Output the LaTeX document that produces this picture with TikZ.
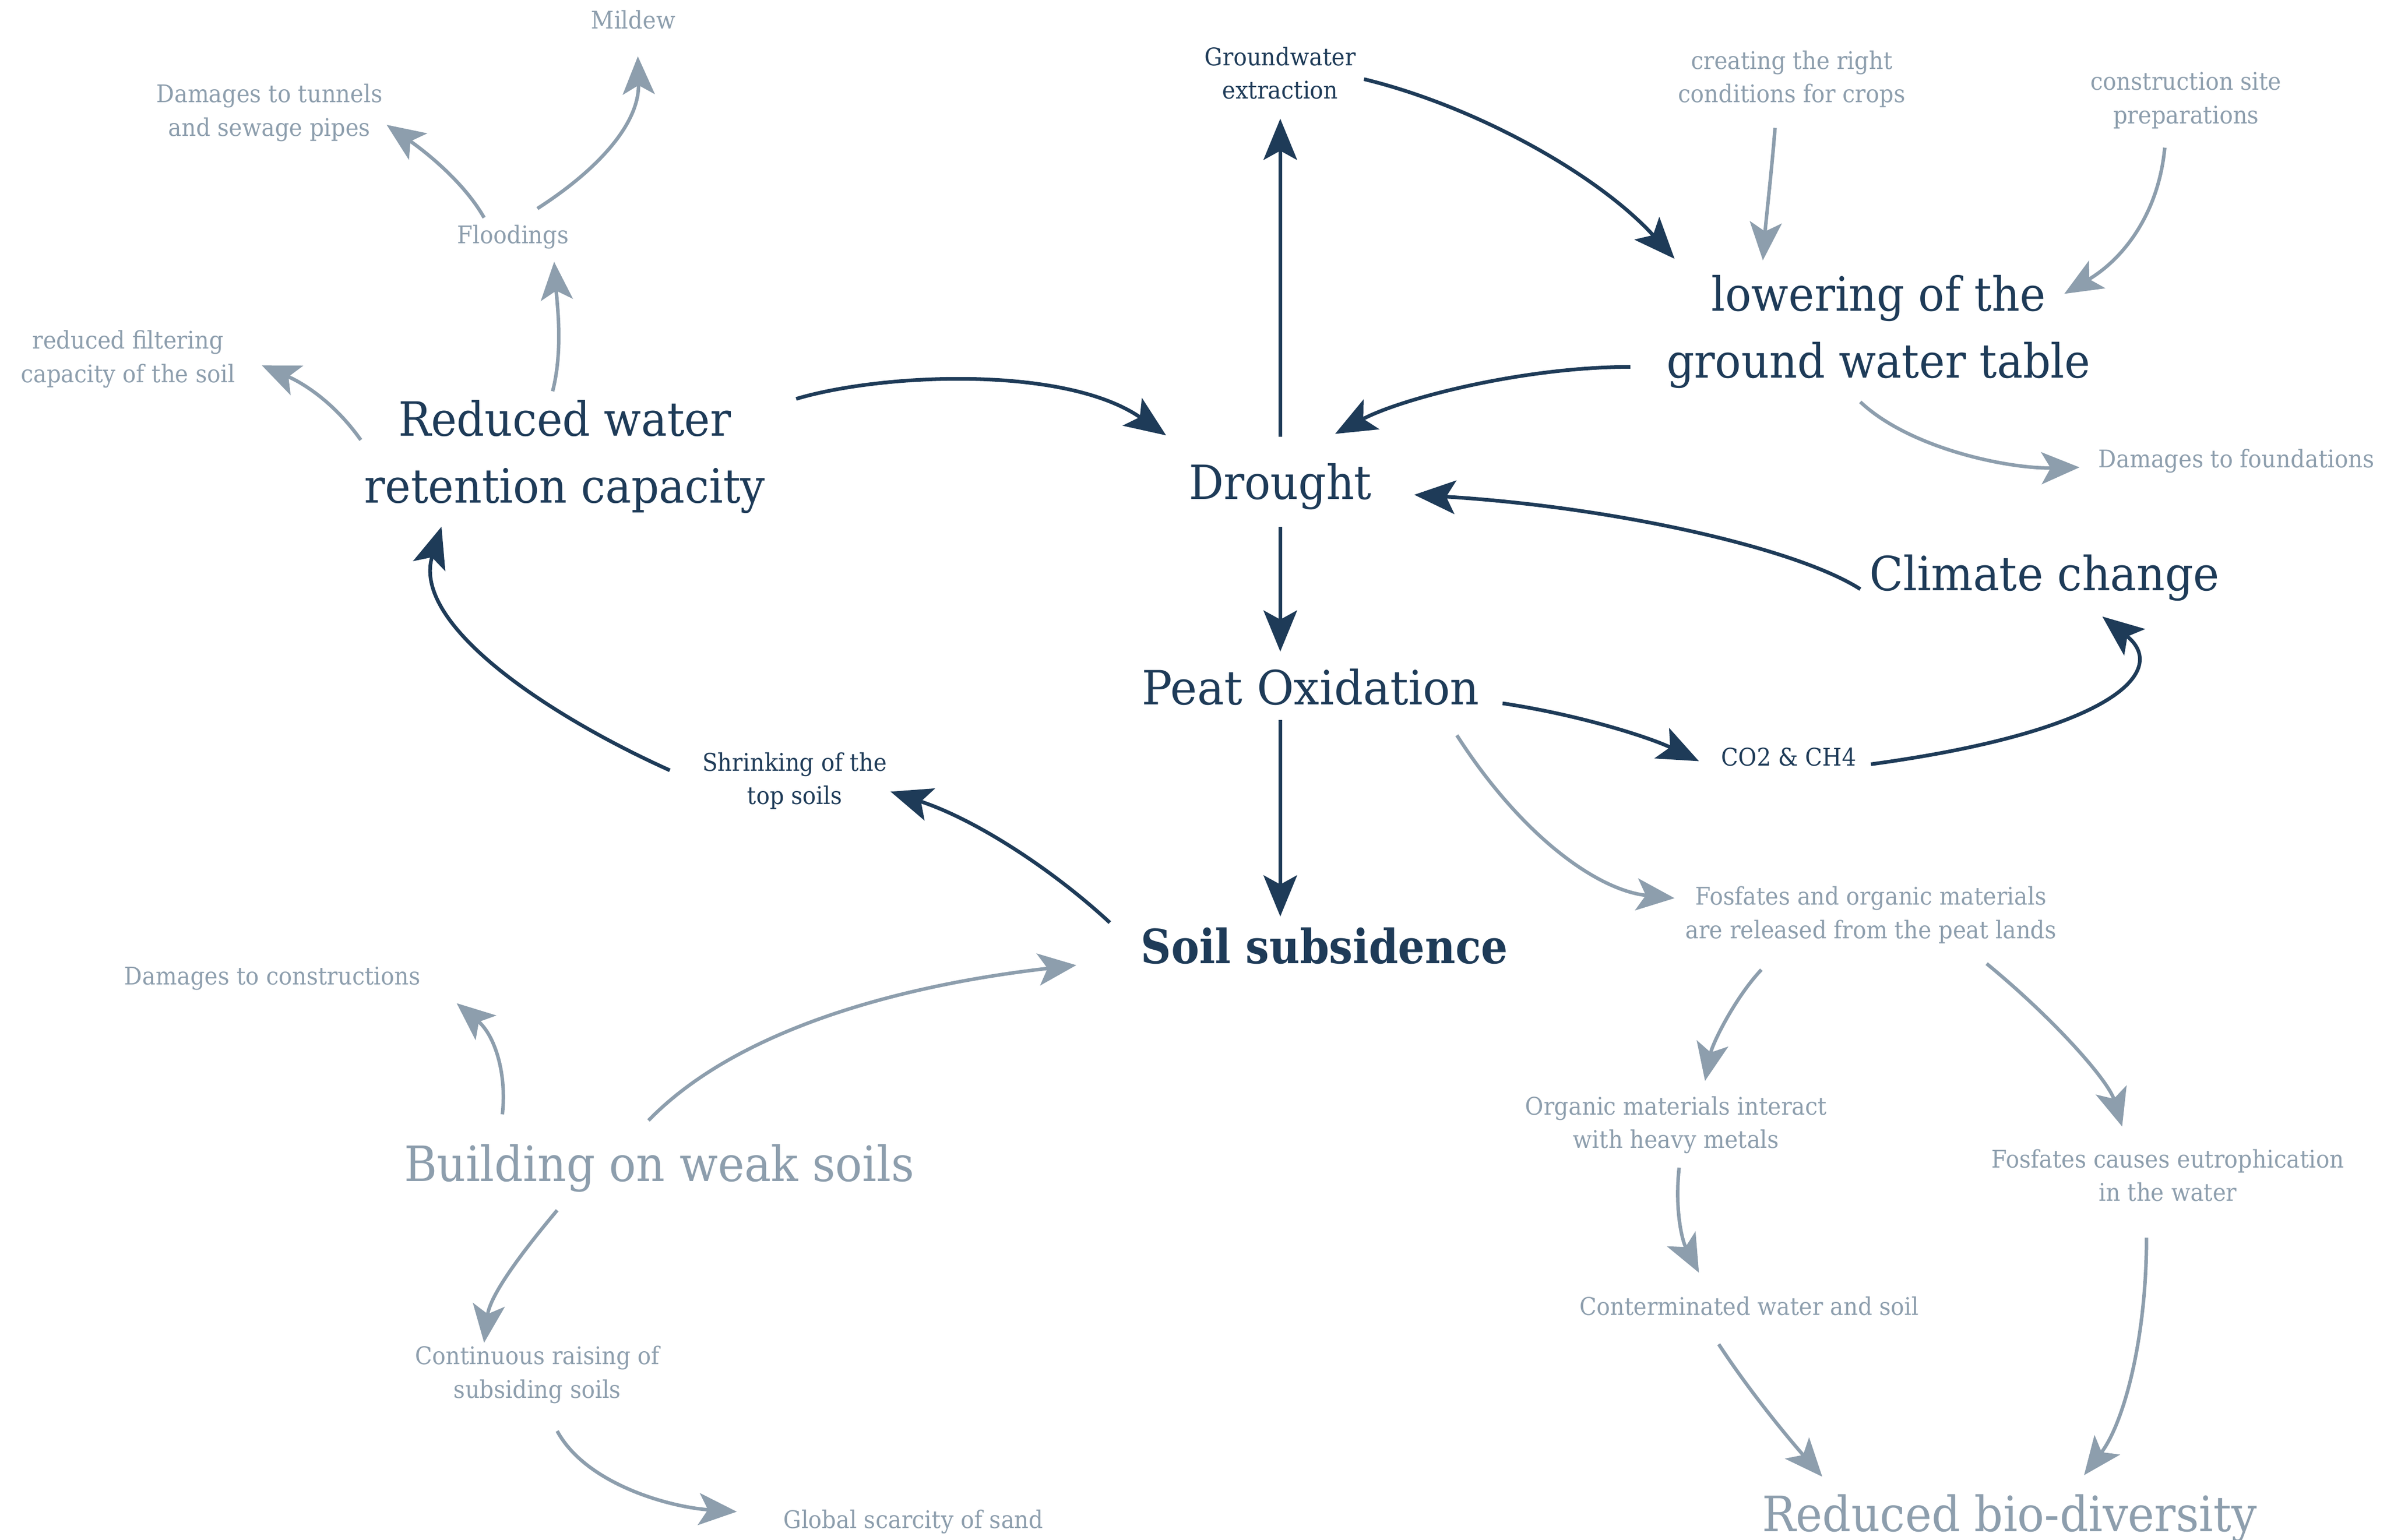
\documentclass[tikz,border=0pt]{standalone}
\usepackage{fontspec}
\setmainfont{DejaVu Serif}[FakeStretch=0.92]
\newfontfamily\subsfont{DejaVu Serif}[FakeStretch=0.89]
\newfontfamily\widefont{DejaVu Serif}[FakeStretch=0.96]
\newfontfamily\midfont{DejaVu Serif}[FakeStretch=0.935]
\usetikzlibrary{arrows.meta}
\definecolor{dk}{HTML}{1E3B58}
\definecolor{gr}{HTML}{8D9EAD}
\begin{document}
\begin{tikzpicture}[x=1pt,y=-1pt,
  big/.style={font=\fontsize{31}{44}\selectfont, text=dk, inner sep=0pt, align=center},
  gbig/.style={big, text=gr, font=\fontsize{32}{44}\selectfont},
  small/.style={font=\fontsize{16}{22}\selectfont, text=dk, inner sep=0pt, align=center},
  gsmall/.style={small, text=gr},
  darr/.style={draw=dk, line width=2.4pt, -{Stealth[length=27pt,width=22pt,inset=6pt]}},
  garr/.style={draw=gr, line width=2.3pt, -{Stealth[length=25pt,width=21pt,inset=6pt]}}
]
\useasboundingbox (0,0) rectangle (1568,1011.6);
% main (dark) nodes
\node[big, anchor=base] (drought) at (841,328) {Drought};
\node[big, anchor=base, font=\midfont\fontsize{31}{44}\selectfont] (climate) at (1343,388) {Climate change};
\node[big, anchor=base, font=\widefont\fontsize{31}{44}\selectfont] (peat) at (861,463) {Peat Oxidation};
\node[big, anchor=base, font=\subsfont\bfseries\fontsize{31}{44}\selectfont] (subs) at (870,633) {Soil subsidence};
\node[big] (rwater) at (371,300) {Reduced water\\retention capacity};
\node[big] (lowering) at (1234,218) {lowering of the\\ground water table};
\node[small] (gw) at (841,48) {Groundwater\\extraction};
\node[small, anchor=base] (co2) at (1175,503) {CO2 \& CH4};
\node[small] (shrink) at (522,513) {Shrinking of the\\top soils};
% grey nodes
\node[gbig, anchor=base] (building) at (433,776) {Building on weak soils};
\node[gbig, anchor=base] (biodiv) at (1320,1006) {Reduced bio-diversity};
\node[gsmall, anchor=base] (mildew) at (416,19) {Mildew};
\node[gsmall] (tunnels) at (177,74) {Damages to tunnels\\and sewage pipes};
\node[gsmall, anchor=base] (flood) at (337,160) {Floodings};
\node[gsmall] (filter) at (84,236) {reduced filtering\\capacity of the soil};
\node[gsmall] (crops) at (1177,52) {creating the right\\conditions for crops};
\node[gsmall] (constr) at (1436,66) {construction site\\preparations};
\node[gsmall, anchor=base] (dfound) at (1469,307) {Damages to foundations};
\node[gsmall] (release) at (1229,601) {Fosfates and organic materials\\are released from the peat lands};
\node[gsmall, anchor=base] (dconstr) at (179,647) {Damages to constructions};
\node[gsmall] (organic) at (1101,739) {Organic materials interact\\with heavy metals};
\node[gsmall] (eutro) at (1424,772) {Fosfates causes eutrophication\\in the water};
\node[gsmall, anchor=base] (contam) at (1149,864) {Conterminated water and soil};
\node[gsmall] (raising) at (353,903) {Continuous raising of\\subsiding soils};
\node[gsmall, anchor=base] (global) at (600,1004) {Global scarcity of sand};

% dark connectors
\draw[darr] ([shift={(0,-41)}]drought.base) -- ([shift={(0,30)}]gw.center);
\draw[darr] ([shift={(55,4)}]gw.center) .. controls (970,70) and (1050,115) .. ([shift={(-134,-48)}]lowering.center);
\draw[darr] ([shift={(-163,23)}]lowering.center) .. controls (1000,241) and (920,262) .. ([shift={(36,-43)}]drought.base);
\draw[darr] ([shift={(152,-38)}]rwater.center) .. controls (580,245) and (700,240) .. ([shift={(-75,-42)}]drought.base);
\draw[darr] ([shift={(-121,-1)}]climate.base) .. controls (1180,360) and (1060,333) .. ([shift={(88,-3)}]drought.base);
\draw[darr] ([shift={(0,18)}]drought.base) -- ([shift={(-20,-35)}]peat.base);
\draw[darr] ([shift={(126,-1)}]peat.base) .. controls (1040,470) and (1085,485) .. ([shift={(-59,-3)}]co2.base);
\draw[darr] ([shift={(54,-1)}]co2.base) .. controls (1390,480) and (1425,440) .. ([shift={(38,17)}]climate.base);
\draw[darr] ([shift={(-20,10)}]peat.base) -- ([shift={(-29,-31)}]subs.base);
\draw[darr] ([shift={(-141,-27)}]subs.base) .. controls (690,570) and (640,538) .. ([shift={(63,7)}]shrink.center);
\draw[darr] ([shift={(-82,-7)}]shrink.center) .. controls (360,470) and (270,410) .. ([shift={(-81,46)}]rwater.center);

% grey connectors
\draw[garr] ([shift={(-8,-43)}]rwater.center) .. controls (370,230) and (366,200) .. ([shift={(27,12)}]flood.base);
\draw[garr] ([shift={(-134,-11)}]rwater.center) .. controls (220,265) and (200,252) .. ([shift={(88,4)}]filter.center);
\draw[garr] ([shift={(-19,-17)}]flood.base) .. controls (305,120) and (280,100) .. ([shift={(77,8)}]tunnels.center);
\draw[garr] ([shift={(16,-23)}]flood.base) .. controls (395,110) and (420,80) .. ([shift={(3,18)}]mildew.base);
\draw[garr] ([shift={(-11,32)}]crops.center) .. controls (1164,110) and (1160,145) .. ([shift={(-76,-47)}]lowering.center);
\draw[garr] ([shift={(-14,31)}]constr.center) .. controls (1418,140) and (1395,170) .. ([shift={(122,-25)}]lowering.center);
\draw[garr] ([shift={(-12,46)}]lowering.center) .. controls (1255,295) and (1320,308) .. ([shift={(-103,0)}]dfound.base);
\draw[garr] ([shift={(96,20)}]peat.base) .. controls (1000,550) and (1050,585) .. ([shift={(-129,-11)}]release.center);
\draw[garr] ([shift={(-7,-40)}]building.base) .. controls (490,670) and (610,645) .. ([shift={(-163,1)}]subs.base);
\draw[garr] ([shift={(-103,-44)}]building.base) .. controls (333,705) and (325,680) .. ([shift={(121,12)}]dconstr.base);
\draw[garr] ([shift={(-67,19)}]building.base) .. controls (345,820) and (322,850) .. ([shift={(-35,-21)}]raising.center);
\draw[garr] ([shift={(13,37)}]raising.center) .. controls (385,975) and (440,990) .. ([shift={(-116,-11)}]global.base);
\draw[garr] ([shift={(-72,36)}]release.center) .. controls (1140,655) and (1125,685) .. ([shift={(19,-29)}]organic.center);
\draw[garr] ([shift={(76,32)}]release.center) .. controls (1350,670) and (1385,710) .. ([shift={(-30,-32)}]eutro.center);
\draw[garr] ([shift={(2,28)}]organic.center) .. controls (1100,795) and (1105,815) .. ([shift={(-33,-28)}]contam.base);
\draw[garr] ([shift={(-20,19)}]contam.base) .. controls (1150,915) and (1175,945) .. ([shift={(-123,-36)}]biodiv.base);
\draw[garr] ([shift={(-14,41)}]eutro.center) .. controls (1410,880) and (1395,935) .. ([shift={(49,-37)}]biodiv.base);
\end{tikzpicture}
\end{document}
